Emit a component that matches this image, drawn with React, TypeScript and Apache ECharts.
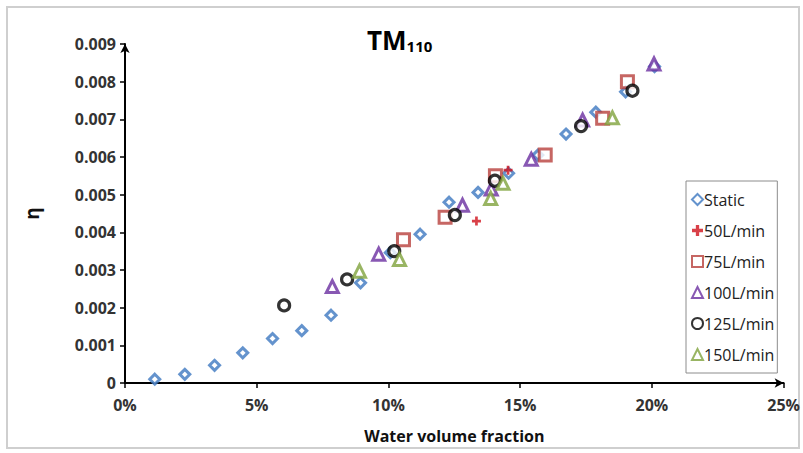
import React, { useEffect, useRef } from "react";
import * as echarts from "echarts";

const staticData: number[][] = [
  [1.13, 0.0001], [2.27, 0.00023], [3.4, 0.00047], [4.47, 0.0008], [5.6, 0.00118],
  [6.71, 0.00139], [7.82, 0.0018], [8.94, 0.00266], [10.07, 0.00346], [11.2, 0.00395],
  [12.3, 0.0048], [13.4, 0.00506], [14.56, 0.00557], [15.67, 0.00605], [16.74, 0.00661],
  [17.87, 0.00719], [19.0, 0.00773], [20.1, 0.0084],
];
const lpm50: number[][] = [[13.34, 0.0043], [14.54, 0.00565]];
const lpm75: number[][] = [
  [10.57, 0.0038], [12.15, 0.0044], [14.06, 0.0055], [15.95, 0.00605], [18.13, 0.00703], [19.07, 0.008],
];
const lpm100: number[][] = [
  [7.87, 0.00256], [9.63, 0.00342], [12.81, 0.00472], [13.9, 0.00515], [15.42, 0.00594],
  [17.37, 0.00698], [20.08, 0.00847],
];
const lpm125: number[][] = [
  [6.04, 0.00206], [8.43, 0.00275], [10.22, 0.0035], [12.52, 0.00446], [14.04, 0.00537],
  [17.31, 0.00682], [19.26, 0.00776],
];
const lpm150: number[][] = [
  [8.9, 0.00297], [10.42, 0.00328], [13.88, 0.0049], [14.35, 0.0053], [18.5, 0.00704],
];
const seriesNames = ["Static", "50L/min", "75L/min", "100L/min", "125L/min", "150L/min"];

const FONT = "'Open Sans', 'Liberation Sans', sans-serif";
const CROSS = "path://M3.5,0H6.5V3.5H10V6.5H6.5V10H3.5V6.5H0V3.5H3.5Z";

export default function App() {
  const ref = useRef<HTMLDivElement>(null);
  useEffect(() => {
    document.body.style.margin = "0";
    if (!ref.current) return;
    const chart = echarts.init(ref.current, undefined, { renderer: "svg" });
    const hollow = (color: string, bw = 3) => ({ color: "#ffffff", borderColor: color, borderWidth: bw });
    chart.setOption({
      animation: false,
      backgroundColor: "#ffffff",
      title: {
        text: "{a|TM}{b|110}",
        left: 362,
        top: 22,
        textStyle: {
          rich: {
            a: { fontFamily: FONT, fontSize: 26, fontWeight: "bold", color: "#000", verticalAlign: "bottom" },
            b: { fontFamily: FONT, fontSize: 15, fontWeight: "bold", color: "#000", verticalAlign: "bottom", padding: [9, 0, 0, 0] },
          },
        },
      },
      graphic: [
        {
          type: "rect",
          shape: { x: 7, y: 7, width: 792, height: 441 },
          style: { fill: "none", stroke: "#cfcfcf", lineWidth: 2 },
          silent: true,
        },
      ],
      legend: {
        orient: "vertical",
        left: 686,
        top: 181,
        padding: [9, 3, 9, 5],
        itemGap: 12,
        itemWidth: 11,
        itemHeight: 11,
        borderColor: "#8c8c8c",
        borderWidth: 1,
        backgroundColor: "#ffffff",
        data: seriesNames,
        textStyle: { fontFamily: FONT, fontSize: 16, color: "#222", padding: [0, 0, 0, -4], lineHeight: 19 },
      },
      grid: { left: 125, top: 44, right: 16, bottom: 70 },
      xAxis: {
        type: "value",
        min: 0,
        max: 25,
        interval: 5,
        name: "Water volume fraction",
        nameLocation: "middle",
        nameGap: 45,
        nameTextStyle: { fontFamily: FONT, fontSize: 16, fontWeight: "bold", color: "#111" },
        axisLine: { show: true, symbol: ["none", "arrow"], symbolSize: [7, 9], lineStyle: { color: "#000", width: 2 } },
        axisTick: { show: true, length: 5, inside: false, lineStyle: { color: "#000", width: 1.5 } },
        axisLabel: { formatter: (v: number) => `${v}%`, fontFamily: FONT, fontSize: 16, fontWeight: "bold", color: "#333", margin: 14 },
        splitLine: { show: false },
      },
      yAxis: {
        type: "value",
        min: 0,
        max: 0.009,
        interval: 0.001,
        name: "η",
        nameLocation: "middle",
        nameGap: 84,
        nameRotate: 90,
        nameTextStyle: { fontFamily: FONT, fontSize: 19, fontWeight: "bold", color: "#111" },
        axisLine: { show: true, symbol: ["none", "arrow"], symbolSize: [7, 9], lineStyle: { color: "#000", width: 2 } },
        axisTick: { show: true, length: 5, inside: false, lineStyle: { color: "#000", width: 1.5 } },
        axisLabel: {
          formatter: (v: number) => (v === 0 ? "0" : v.toFixed(3)),
          fontFamily: FONT,
          fontSize: 16,
          fontWeight: "bold",
          color: "#333",
          margin: 9,
        },
        splitLine: { show: false },
      },
      series: [
        { name: "Static", type: "scatter", data: staticData, symbol: "diamond", symbolSize: 10, itemStyle: hollow("#3d78c0", 3) },
        { name: "50L/min", type: "scatter", data: lpm50, symbol: CROSS, symbolSize: 9, itemStyle: { color: "#d0101a" } },
        { name: "75L/min", type: "scatter", data: lpm75, symbol: "rect", symbolSize: 12, itemStyle: hollow("#b8403c", 3) },
        { name: "100L/min", type: "scatter", data: lpm100, symbol: "triangle", symbolSize: 12, itemStyle: hollow("#6a2ea0", 3) },
        { name: "125L/min", type: "scatter", data: lpm125, symbol: "circle", symbolSize: 11, itemStyle: hollow("#000000", 3.2) },
        { name: "150L/min", type: "scatter", data: lpm150, symbol: "triangle", symbolSize: 12, itemStyle: hollow("#7fa23c", 3) },
      ],
    });
    return () => chart.dispose();
  }, []);
  return <div ref={ref} style={{ width: 803, height: 453 }} />;
}
